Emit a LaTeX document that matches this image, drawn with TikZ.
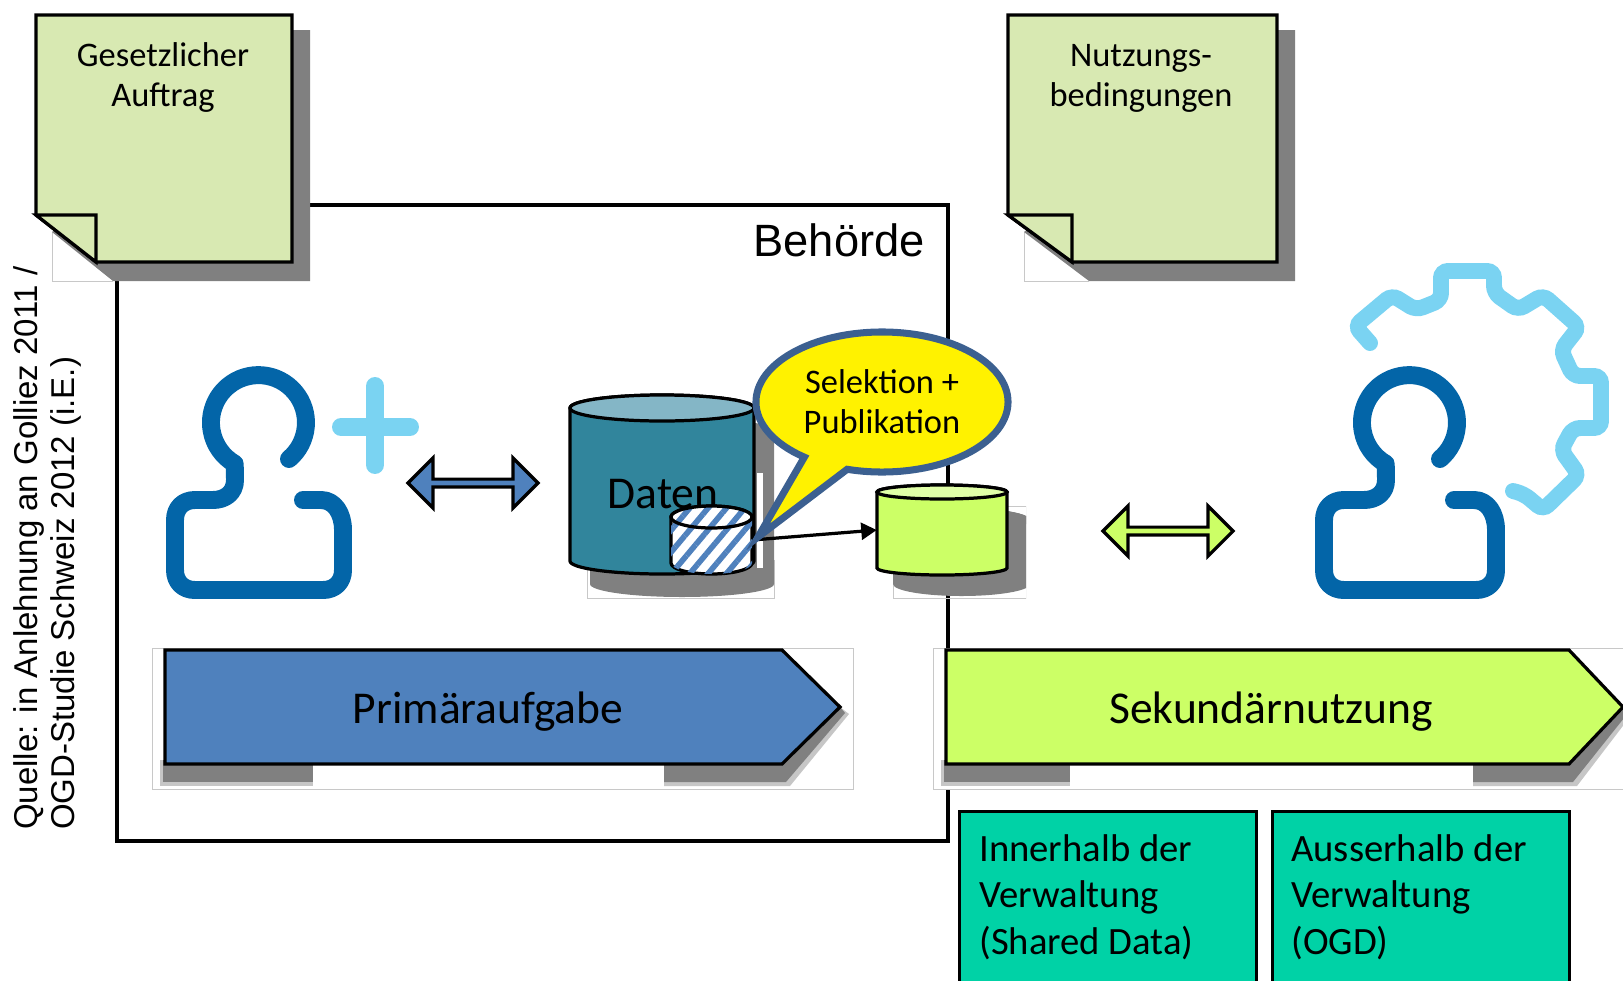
\documentclass[tikz,border=0pt]{standalone}
\usepackage{fontspec}
\setmainfont{Carlito}
\newfontfamily\arialfont{Liberation Sans}
\usetikzlibrary{shapes, arrows.meta, patterns.meta}
\definecolor{noteGreen}{HTML}{D8E9B2}
\definecolor{shadowGray}{HTML}{808080}
\definecolor{edgeGray}{HTML}{C8C8C8}
\definecolor{primBlue}{HTML}{4F81BD}
\definecolor{secGreen}{HTML}{CCFF66}
\definecolor{secTop}{HTML}{E0FFA8}
\definecolor{dbTeal}{HTML}{31859C}
\definecolor{dbTop}{HTML}{84B6C6}
\definecolor{boxTeal}{HTML}{00D2A6}
\definecolor{personDark}{HTML}{0365A8}
\definecolor{personLight}{HTML}{7AD3F2}
\definecolor{calloutBlue}{HTML}{3C6090}
\newcommand*{\pxLine}{2.3pt}
\newcommand\DrawNote[3]{
	\draw[edgeGray, line width=0.6pt] (#1+16,232) -- (#1+16,281) -- (#3+17,281);
	\fill[shadowGray] (#1+16,232) -- (#3+17,281) -- (#2+18,281) -- (#2+18,30) -- (#2,30) -- cycle;
	\draw[noteline] (#1,15) -- (#2,15) -- (#2,262) -- (#3,262) -- (#1,215) -- cycle;
	\draw[noteline] (#1,215) -- (#3,215) -- (#3,262) -- cycle;
}
\newcommand\DrawPerson[2]{
	\draw[personline] (#1+30,459) arc[start angle=50, end angle=-240, radius=47.5] -- (#1-24,480)
		.. controls (#1-24,493) and (#1-34,500) .. (#1-46,500) -- (#1-#2+20,500)
		.. controls (#1-#2+8,500) and (#1-#2,508) .. (#1-#2,520) -- (#1-#2,570)
		.. controls (#1-#2,582) and (#1-#2+8,590) .. (#1-#2+20,590) -- (#1+#2-20,590)
		.. controls (#1+#2-8,590) and (#1+#2,582) .. (#1+#2,570) -- (#1+#2,530)
		.. controls (#1+#2,514) and (#1+#2-8,500) .. (#1+#2-22,500) -- (#1+44,500);
}
% name, left, right, top, bottom, radius y, body style, end style
\newcommand\DrawDb[8]{
	\path[#7] (#2,#4) -- (#2,#5) arc[start angle=180, end angle=0, x radius=(#3-#2)/2, y radius=#6] -- (#3,#4) arc[start angle=0, end angle=-180, x radius=(#3-#2)/2, y radius=#6] -- cycle;
	\path[#8] ({(#2+#3)/2},#4) ellipse[x radius=(#3-#2)/2, y radius=#6];
	\node[rectangle, inner sep=0pt, minimum width=(#3-#2)*0.025cm, minimum height=(#5-#4+2*#6)*0.025cm] (#1) at ({(#2+#3)/2},{(#4+#5)/2}) {};
}
\newcommand\DrawPhase[7]{
	\draw[edgeGray, line width=0.6pt, fill=white] (#1-13,648) rectangle (#5,789);
	\fill[shadowGray!45] (#1-5,760) rectangle (#6,786);
	\fill[shadowGray!45] (#7,760) -- (#7,786) -- (#2+8,786) -- (#3+9,714) -- (#3,707) -- (#2,760) -- cycle;
	\fill[shadowGray] (#1-2,760) rectangle (#6,782);
	\fill[shadowGray] (#7,760) -- (#7,782) -- (#2+4,782) -- (#3+5,713) -- (#3,707) -- (#2,760) -- cycle;
	\draw[phaseline, fill=#4] (#1,650) -- (#2,650) -- (#3,707) -- (#2,764) -- (#1,764) -- cycle;
}
\tikzset{
	noteline/.style={draw=black, fill=noteGreen, line width=\pxLine, line join=miter},
	personline/.style={draw=personDark, line width=18*0.709pt, line cap=round, line join=round},
	gearline/.style={draw=personLight, line width=16*0.709pt, line cap=round, rounded corners=5pt},
	phaseline/.style={draw=black, line width=\pxLine},
	notetext/.style={font=\fontsize{24.5pt}{28.4pt}\selectfont, align=center, inner sep=0pt, text=black},
	bigtext/.style={font=\fontsize{32.4pt}{38pt}\selectfont, inner sep=0pt},
	infotext/.style={font=\fontsize{27.5pt}{33.3pt}\selectfont, align=left, inner sep=0pt},
	infobox/.style={draw=black, fill=boxTeal, line width=1.9pt, anchor=north west, inner sep=0pt},
	bothway/.style={double arrow, double arrow tip angle=90, double arrow head extend=0.22cm,
		draw=black, line width=\pxLine, minimum height=3.25cm, minimum width=1.25cm, inner sep=0pt},
	dbline/.style={draw=black, line width=\pxLine},
	stripes/.style={pattern={Lines[angle=50, distance=10pt, line width=4pt]}, pattern color=primBlue},
}
\begin{document}
\begin{tikzpicture}[x=0.025cm, y=-0.025cm]
	\useasboundingbox (0,0) rectangle (1623,980);
	\clip (0,0) rectangle (1623,980);

	\draw[black, line width=\pxLine] (117,205) rectangle (948,841);
	\node[font=\arialfont\fontsize{32.2pt}{38pt}\selectfont, anchor=base east, inner sep=0pt] (agency) at (925,256) {Behörde};

	\node[font=\arialfont\fontsize{23.45pt}{26.2pt}\selectfont, rotate=90, anchor=north west, align=left, inner sep=0pt] (source) at (13,830) {Quelle: in Anlehnung an Golliez 2011 /\\OGD-Studie Schweiz 2012 (i.E.)};

	% notes
	\DrawNote{36}{292}{96}
	\DrawNote{1008}{1277}{1072}
	\node[notetext, anchor=north] (note_task) at (163,42) {Gesetzlicher\\Auftrag};
	\node[notetext, anchor=north] (note_terms) at (1141,44) {Nutzungs-\\bedingungen};

	% persons
	\DrawPerson{259}{84}
	\DrawPerson{1410}{86}
	\draw[personline, draw=personLight] (341,427) -- (410,427) (375,386) -- (375,465);
	\draw[gearline] (1370,343) -- (1355,326) -- (1392,295) -- (1416,310) -- (1441,300) -- (1441,271) -- (1494,271) -- (1494,293) -- (1518,310) -- (1543,295) -- (1579,327) -- (1561,350) -- (1573,376) -- (1601,376) -- (1601,428) -- (1573,428) -- (1561,450) -- (1579,475) -- (1543,510) -- (1524,494) -- (1513,491);

	\node[bothway, fill=primBlue] (arrow_prim) at (473,483) {};
	\node[bothway, fill=secGreen] (arrow_sec) at (1168,531) {};

	% main data store
	\draw[edgeGray, line width=0.6pt] (587,560) -- (587,598) -- (774,598) -- (774,560);
	\DrawDb{db_main_shadow}{590}{774}{431}{584}{13}{fill=shadowGray}{fill=shadowGray}
	\fill[white] (757,473) rectangle (763,568);
	\DrawDb{db_main}{570}{754}{408}{561}{13}{dbline, fill=dbTeal}{dbline, fill=dbTop}
	\node[bigtext] (db_main_label) at (663,494) {Daten};

	% published data store
	\begin{scope}
		\clip (893,505) rectangle (1026,600);
		\draw[edgeGray, line width=0.6pt] (893,506) rectangle (1026,598);
		\DrawDb{db_pub_shadow}{893}{1030}{520}{584}{12}{fill=shadowGray}{fill=shadowGray}
	\end{scope}
	\DrawDb{db_pub}{877}{1007}{492}{568}{7}{dbline, fill=secGreen}{dbline, fill=secTop}

	\DrawDb{db_small}{671}{752}{517}{563}{11}{dbline, fill=white, postaction={stripes}}{fill=white, postaction={stripes}, postaction={dbline}}

	\draw[black, line width=\pxLine, -{Triangle[length=11pt, width=12pt]}] (db_small.east) -- (db_pub.west);

	\node[ellipse callout, callout absolute pointer={(758,537)}, callout pointer arc=22, draw=calloutBlue, fill=yellow, line width=5pt, minimum width=6.3cm, minimum height=3.5cm, inner sep=0pt, notetext] (selection) at (882,402) {Selektion +\\Publikation};

	% phases
	\DrawPhase{165}{782}{840}{primBlue}{853}{313}{664}
	\DrawPhase{946}{1569}{1623}{secGreen}{1640}{1070}{1473}
	\node[bigtext] (phase_prim) at (488,712) {Primäraufgabe};
	\node[bigtext] (phase_sec) at (1271,712) {Sekundärnutzung};

	% bottom boxes
	\node[infobox, minimum width=7.42cm, minimum height=5cm] (box_inner) at (958,810) {};
	\node[infobox, minimum width=7.42cm, minimum height=5cm] (box_outer) at (1271,810) {};
	\node[infotext, anchor=north west] (label_inner) at (979,834) {Innerhalb der\\Verwaltung\\(Shared Data)};
	\node[infotext, anchor=north west] (label_outer) at (1291,834) {Ausserhalb der\\Verwaltung\\(OGD)};
\end{tikzpicture}
\end{document}
